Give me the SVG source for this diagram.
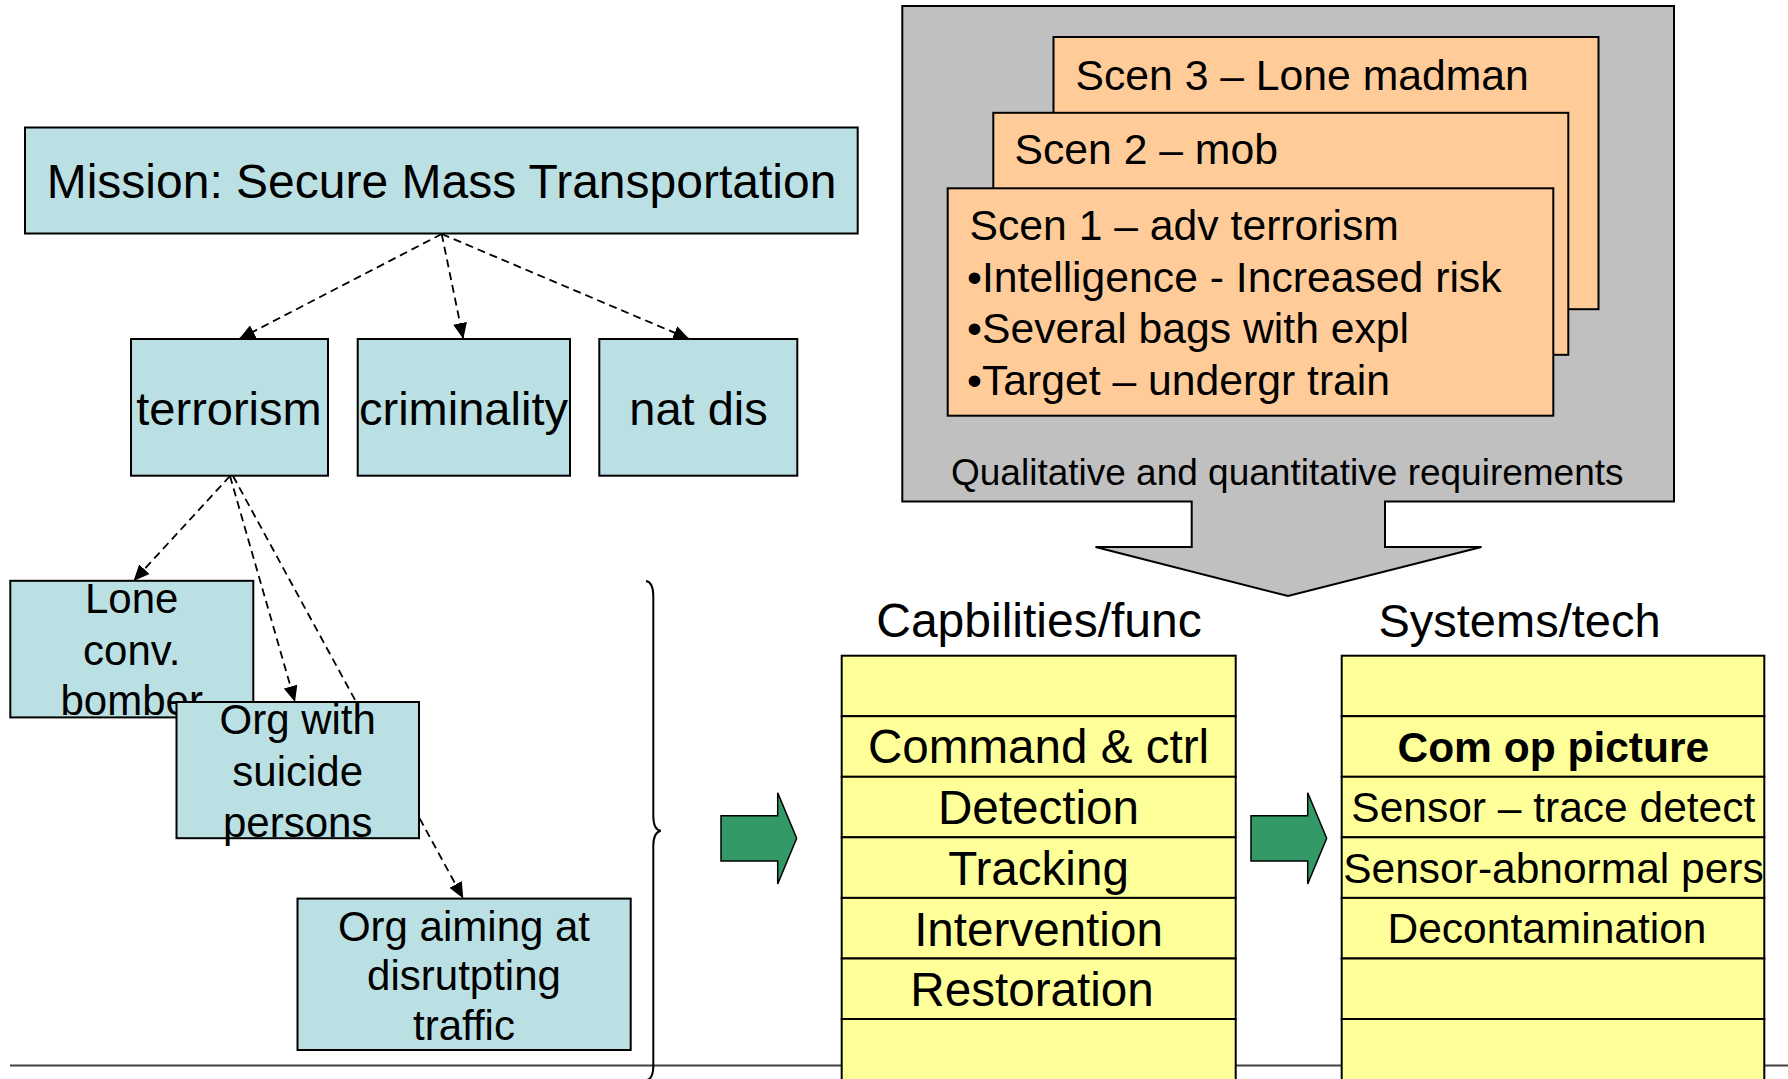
<svg xmlns="http://www.w3.org/2000/svg" width="1788" height="1079" viewBox="0 0 1788 1079">
<defs>
<marker id="ah" markerUnits="userSpaceOnUse" markerWidth="16" markerHeight="14" viewBox="0 0 16 14" refX="16" refY="7" orient="auto">
<path d="M0,0 L16,7 L0,14 Z" fill="#000"/>
</marker>
</defs>
<style>
text{font-family:"Liberation Sans",Arial,sans-serif;fill:#000}
.blue{fill:#BBE0E3;stroke:#000;stroke-width:2}
.org{fill:#FFCC99;stroke:#000;stroke-width:2}
.yel{fill:#FFFF99;stroke:#000;stroke-width:2}
.grn{fill:#339966;stroke:#000;stroke-width:1.5}
.con{fill:none;stroke:#000;stroke-width:1.8;stroke-dasharray:8 5;marker-end:url(#ah)}
.t48{font-size:48px;text-anchor:middle}
.t47{font-size:47px;text-anchor:middle}
.c1{font-size:47.6px;text-anchor:middle}
.c2{font-size:42.5px;text-anchor:middle}
.t42{font-size:42px;text-anchor:middle}
.s42{font-size:42.7px}
</style>
<rect width="1788" height="1079" fill="#fff"/>
<line x1="10" y1="1065.5" x2="1788" y2="1065.5" stroke="#404040" stroke-width="2"/>

<g id="connectors">
<line class="con" x1="441.7" y1="234" x2="239" y2="339"/>
<line class="con" x1="441.7" y1="234" x2="463.3" y2="339"/>
<line class="con" x1="441.7" y1="234" x2="689.3" y2="339"/>
<line class="con" x1="230" y1="476" x2="133.5" y2="581"/>
<line class="con" x1="230" y1="476" x2="295" y2="702"/>
<line class="con" x1="233" y1="476" x2="463.3" y2="898.5"/>
</g>

<g id="mission">
<rect class="blue" x="25" y="127.5" width="832.7" height="106"/>
<text class="t48" x="441.5" y="198.3">Mission: Secure Mass Transportation</text>
</g>
<g id="terrorism">
<rect class="blue" x="131" y="339" width="197" height="136.7"/>
<text class="t47" x="229" y="425">terrorism</text>
</g>
<g id="criminality">
<rect class="blue" x="357.7" y="339" width="212.3" height="136.7"/>
<text class="t47" x="463.5" y="425">criminality</text>
</g>
<g id="natdis">
<rect class="blue" x="599.3" y="339" width="198" height="136.7"/>
<text class="t47" x="698.5" y="425">nat dis</text>
</g>
<g id="lone">
<rect class="blue" x="10.3" y="580.8" width="243" height="136.6"/>
<text class="t42" x="131.7" y="613">Lone</text>
<text class="t42" x="131.7" y="665">conv.</text>
<text class="t42" x="131.7" y="714.6">bomber</text>
</g>
<g id="orgwith">
<rect class="blue" x="176.5" y="702" width="242.5" height="136.2"/>
<text class="t42" x="297.7" y="734.4">Org with</text>
<text class="t42" x="297.7" y="785.5">suicide</text>
<text class="t42" x="297.7" y="837">persons</text>
</g>
<g id="orgaiming">
<rect class="blue" x="297.5" y="898.6" width="333.2" height="151.4"/>
<text class="t42" x="464" y="940.5">Org aiming at</text>
<text class="t42" x="464" y="990">disrutpting</text>
<text class="t42" x="464" y="1040">traffic</text>
</g>

<g id="brace">
<path d="M646,581 C651,582 653.3,587 653.3,596 L653.3,816 C653.3,825 656,830 660.7,830.8 C656,832 653.3,837 653.3,846 L653.3,1066 C653.3,1075 651,1079 647,1080" fill="none" stroke="#000" stroke-width="2"/>
</g>

<g id="requirements">
<polygon points="902.3,6 1674,6 1674,501.5 1385,501.5 1385,547 1481.5,547 1288,596 1095.5,547 1191.7,547 1191.7,501.5 902.3,501.5" fill="#C0C0C0" stroke="#000" stroke-width="2"/>
<text x="951" y="485" style="font-size:37px">Qualitative and quantitative requirements</text>
</g>
<g id="scen3">
<rect class="org" x="1053.5" y="37" width="545" height="272.2"/>
<text class="s42" x="1075.5" y="90">Scen 3 – Lone madman</text>
</g>
<g id="scen2">
<rect class="org" x="993.3" y="112.8" width="575" height="242"/>
<text class="s42" x="1014.5" y="164">Scen 2 – mob</text>
</g>
<g id="scen1">
<rect class="org" x="947.7" y="188.3" width="605.6" height="227.4"/>
<text class="s42" x="969.5" y="240">Scen 1 – adv terrorism</text>
<text class="s42" x="967" y="291.7">•Intelligence - Increased risk</text>
<text class="s42" x="967" y="343.3">•Several bags with expl</text>
<text class="s42" x="967" y="395">•Target – undergr train</text>
</g>

<g id="arrow1">
<polygon class="grn" points="721,815.7 777.7,815.7 777.7,792.7 796.7,838.3 777.7,884 777.7,861 721,861"/>
</g>
<g id="arrow2">
<polygon class="grn" points="1251,815.7 1307.7,815.7 1307.7,792.7 1326.7,838.3 1307.7,884 1307.7,861 1251,861"/>
</g>

<g id="capabilities">
<text class="t48" x="1039" y="636.7">Capbilities/func</text>
<rect class="yel" x="841.7" y="655.7" width="394" height="60.5"/>
<g id="cap-c2"><rect class="yel" x="841.7" y="716.2" width="394" height="60.6"/><text class="c1" x="1038.5" y="763.3">Command &amp; ctrl</text></g>
<g id="cap-det"><rect class="yel" x="841.7" y="776.8" width="394" height="60.5"/><text class="c1" x="1038.5" y="824">Detection</text></g>
<g id="cap-trk"><rect class="yel" x="841.7" y="837.3" width="394" height="60.6"/><text class="c1" x="1038.5" y="885">Tracking</text></g>
<g id="cap-int"><rect class="yel" x="841.7" y="897.9" width="394" height="60.6"/><text class="c1" x="1038.5" y="945.7">Intervention</text></g>
<g id="cap-res"><rect class="yel" x="841.7" y="958.5" width="394" height="60.5"/><text class="c1" x="1032" y="1006">Restoration</text></g>
<rect class="yel" x="841.7" y="1019" width="394" height="70"/>
</g>

<g id="systems">
<text class="t47" x="1519.5" y="636.7">Systems/tech</text>
<rect class="yel" x="1341.7" y="655.7" width="422.6" height="60.5"/>
<g id="sys-cop"><rect class="yel" x="1341.7" y="716.2" width="422.6" height="60.6"/><text class="c2" x="1553.3" y="761.7" font-weight="bold">Com op picture</text></g>
<g id="sys-trace"><rect class="yel" x="1341.7" y="776.8" width="422.6" height="60.5"/><text class="c2" x="1553.3" y="821.7">Sensor – trace detect</text></g>
<g id="sys-abn"><rect class="yel" x="1341.7" y="837.3" width="422.6" height="60.6"/><text class="c2" x="1553.5" y="882.7">Sensor-abnormal pers</text></g>
<g id="sys-dec"><rect class="yel" x="1341.7" y="897.9" width="422.6" height="60.6"/><text class="c2" x="1547" y="943.3">Decontamination</text></g>
<rect class="yel" x="1341.7" y="958.5" width="422.6" height="60.5"/>
<rect class="yel" x="1341.7" y="1019" width="422.6" height="70"/>
</g>
</svg>
